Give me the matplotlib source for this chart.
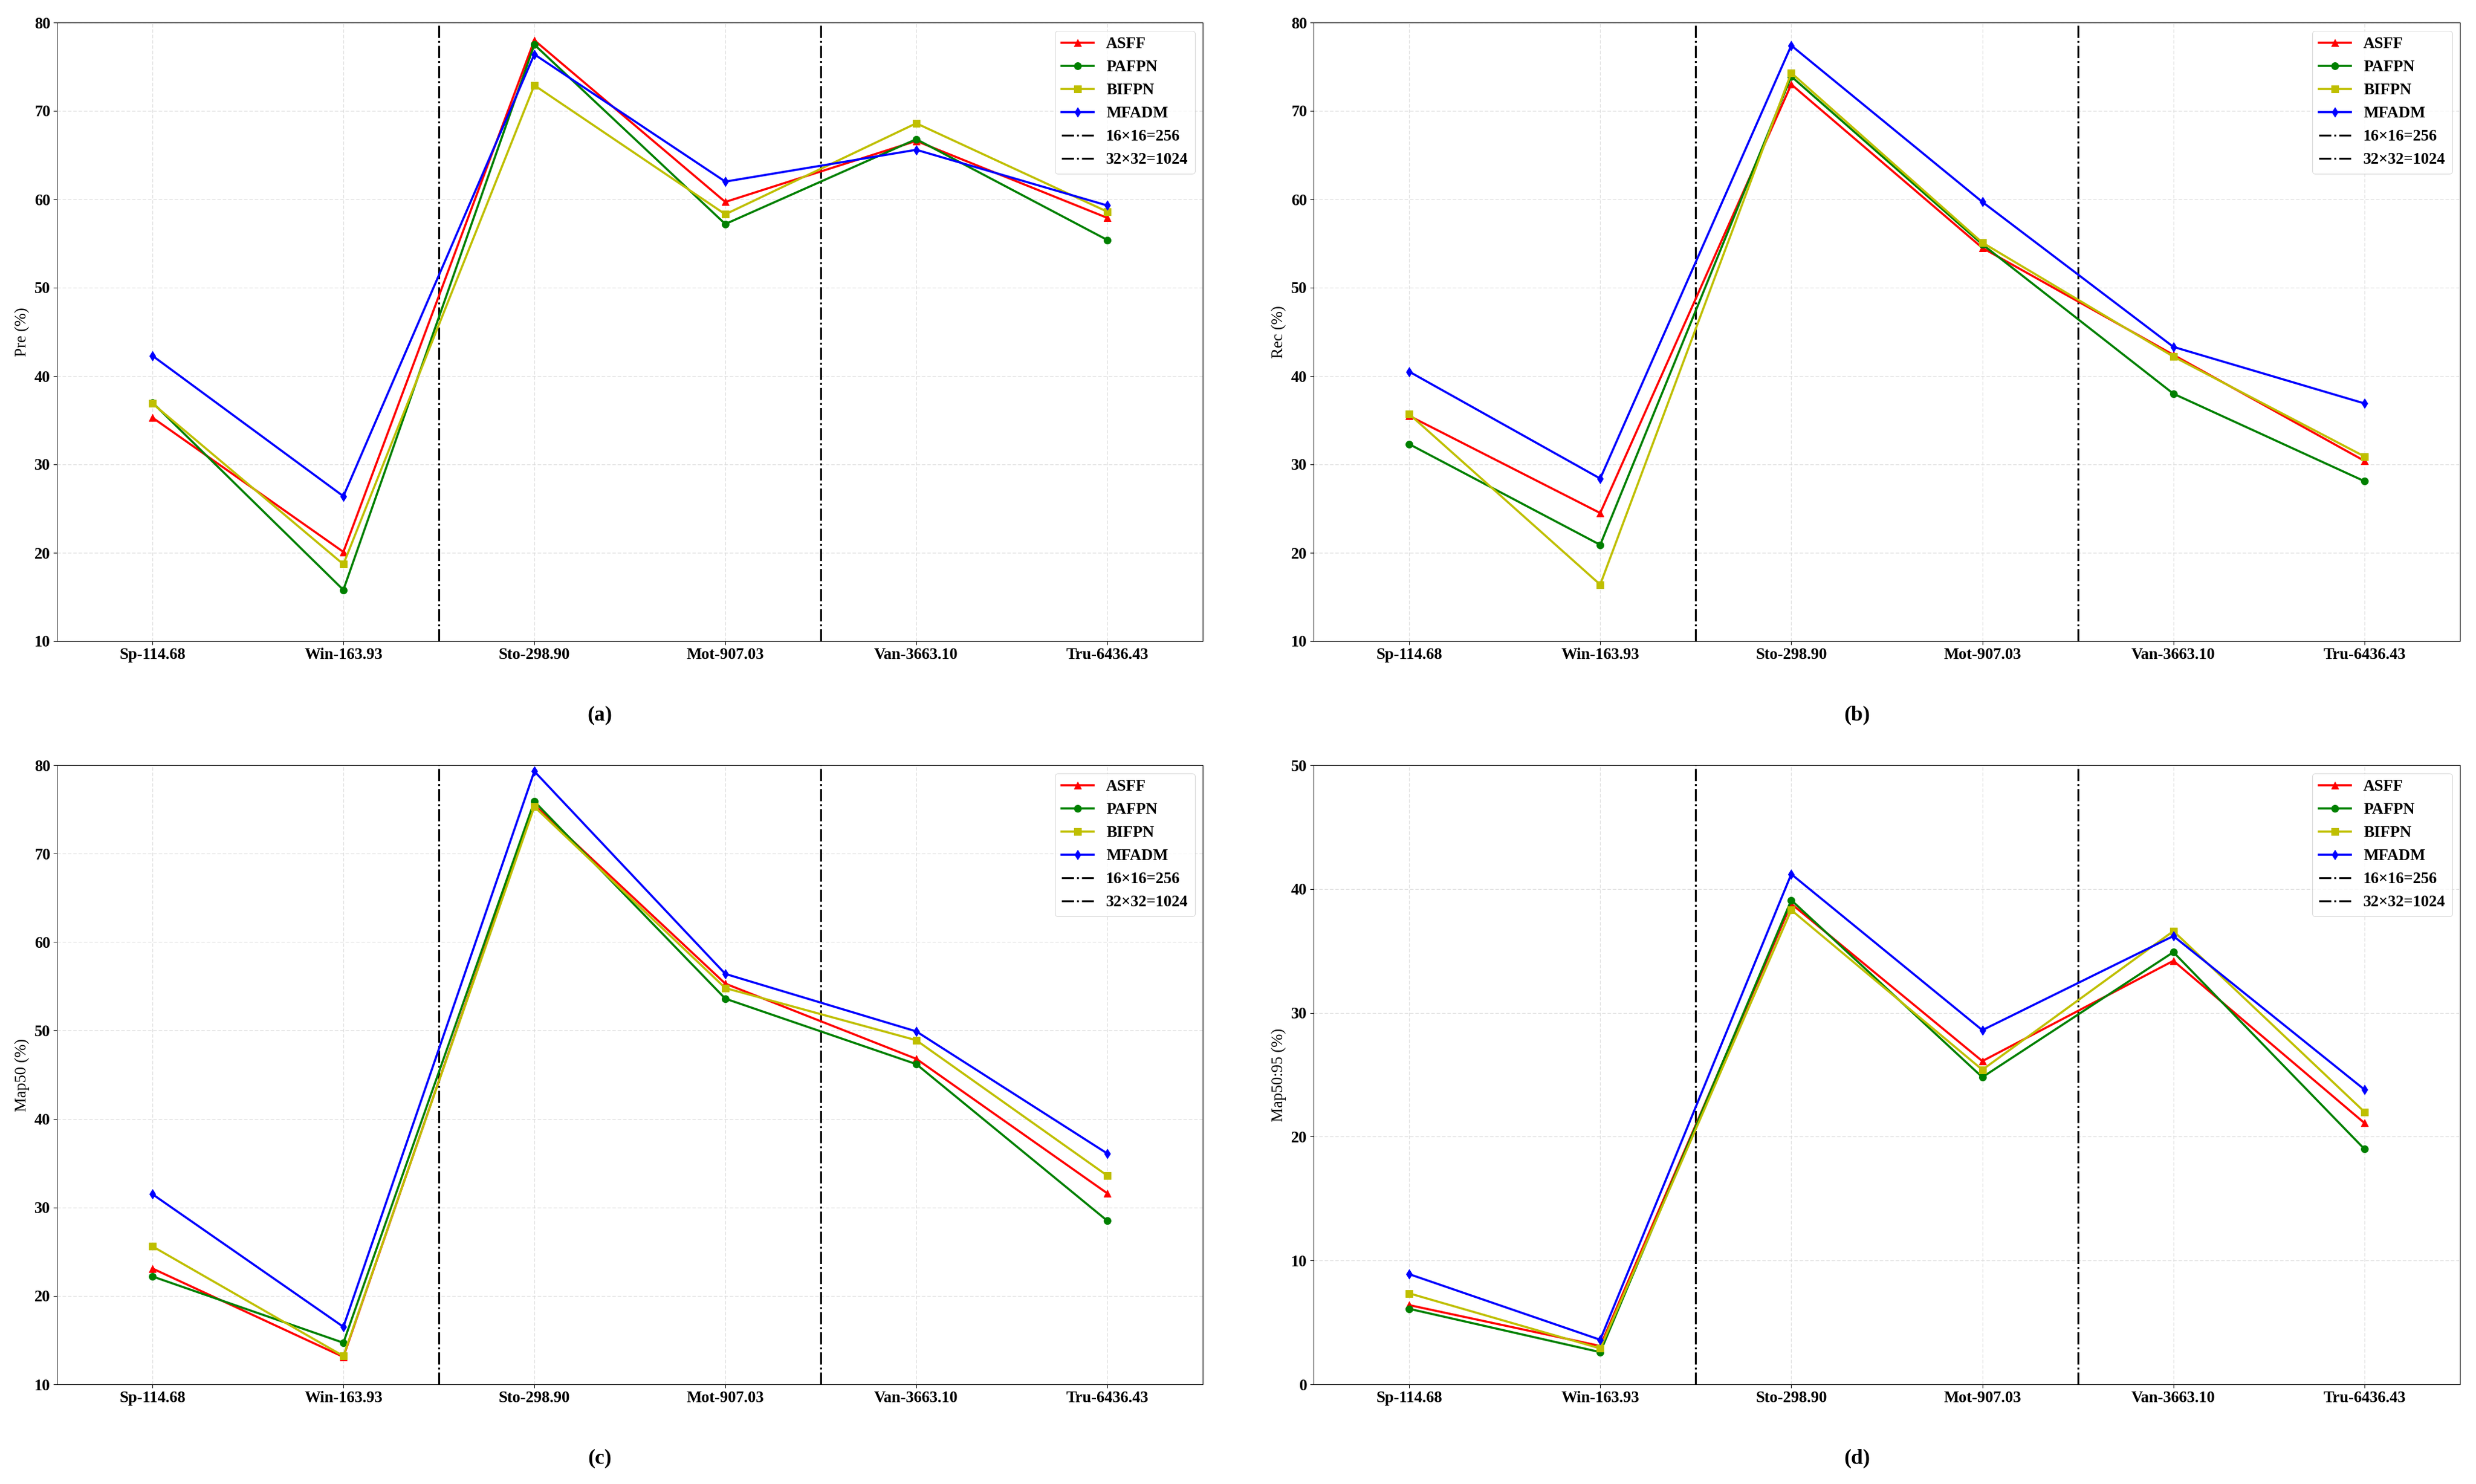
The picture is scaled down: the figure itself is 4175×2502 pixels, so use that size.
import matplotlib
matplotlib.use("Agg")
import matplotlib.pyplot as plt

plt.rcParams['font.family'] = ['Liberation Serif', 'DejaVu Serif']

categories = ['Sp-114.68', 'Win-163.93', 'Sto-298.90', 'Mot-907.03', 'Van-3663.10', 'Tru-6436.43']
methods = ['ASFF', 'PAFPN', 'BIFPN', 'MFADM']

pre_asff = [35.3, 20.1, 78.0, 59.7, 66.6, 57.9]
pre_pafpn = [37.0, 15.8, 77.5, 57.2, 66.8, 55.4]
pre_bifpn = [36.9, 18.7, 72.9, 58.3, 68.6, 58.6]
pre_mfadm = [42.3, 26.4, 76.4, 62.0, 65.6, 59.3]

rec_asff = [35.5, 24.5, 73.0, 54.5, 42.4, 30.4]
rec_pafpn = [32.3, 20.9, 73.9, 54.9, 38.0, 28.1]
rec_bifpn = [35.7, 16.4, 74.3, 55.1, 42.2, 30.9]
rec_mfadm = [40.5, 28.4, 77.4, 59.7, 43.3, 36.9]

map50_asff = [23.1, 13.1, 75.5, 55.3, 46.8, 31.6]
map50_pafpn = [22.2, 14.7, 75.9, 53.6, 46.2, 28.5]
map50_bifpn = [25.6, 13.2, 75.3, 54.8, 48.9, 33.6]
map50_mfadm = [31.5, 16.5, 79.3, 56.4, 49.9, 36.1]

map5095_asff = [6.4, 3.1, 38.8, 26.1, 34.2, 21.1]
map5095_pafpn = [6.1, 2.6, 39.1, 24.8, 34.9, 19.0]
map5095_bifpn = [7.35, 2.9, 38.3, 25.4, 36.6, 22.0]
map5095_mfadm = [8.9, 3.6, 41.2, 28.6, 36.2, 23.8]

boundary_labels = ['16\u00d716=256', '32\u00d732=1024']
boundary_pos = [1.5, 3.5]

panels = [
    ('Pre (%)', '(a)', (10, 80), [pre_asff, pre_pafpn, pre_bifpn, pre_mfadm]),
    ('Rec (%)', '(b)', (10, 80), [rec_asff, rec_pafpn, rec_bifpn, rec_mfadm]),
    ('Map50 (%)', '(c)', (10, 80), [map50_asff, map50_pafpn, map50_bifpn, map50_mfadm]),
    ('Map50:95 (%)', '(d)', (0, 50), [map5095_asff, map5095_pafpn, map5095_bifpn, map5095_mfadm]),
]

colors = ['r', 'g', 'y', 'b']
markers = ['^', 'o', 's', 'd']

W, H = 4175, 2502
DPI = 72
fig = plt.figure(figsize=(W / DPI, H / DPI), dpi=DPI)

# axes boxes in pixels: left, right, top, bottom
boxes = [
    (96, 2028, 38, 1081),
    (2215, 4148, 38, 1081),
    (96, 2028, 1290, 2334),
    (2215, 4148, 1290, 2334),
]

FS = 27
x = list(range(len(categories)))

for (ylabel, tag, ylim, series), (l, r, t, b) in zip(panels, boxes):
    ax = fig.add_axes([l / W, 1 - b / H, (r - l) / W, (b - t) / H])
    ax.grid(True, color='#d8d8d8', linestyle=(0, (5, 2.5)), linewidth=1.2, alpha=0.8, zorder=0)
    ax.set_axisbelow(True)
    for name, vals, c, m in zip(methods, series, colors, markers):
        ax.plot(x, vals, color=c, marker=m, linewidth=3.6, markersize=12,
                label=name, zorder=3)
    for pos, lab in zip(boundary_pos, boundary_labels):
        ax.axvline(pos, color='k', linestyle='-.', linewidth=3.2, label=lab, zorder=2)
    ax.set_xlim(-0.5, len(categories) - 0.5)
    ax.set_ylim(*ylim)
    ax.set_xticks(x)
    ax.set_xticklabels(categories)
    ax.set_yticks(range(ylim[0], ylim[1] + 1, 10))
    ax.tick_params(axis='both', labelsize=FS, length=6, width=1, pad=5)
    for lbl in ax.get_xticklabels() + ax.get_yticklabels():
        lbl.set_fontweight('bold')
    for sp in ax.spines.values():
        sp.set_linewidth(1.0)
    ax.set_ylabel(ylabel, fontsize=FS, labelpad=8)
    ax.text(0.474, -0.12, tag, transform=ax.transAxes, ha='center', va='center',
            fontsize=36, fontweight='bold')
    ax.legend(loc='upper right', prop={'weight': 'bold', 'size': FS},
              labelspacing=0.52, handlelength=2.0, borderpad=0.4)

fig.savefig('out.png', dpi=DPI)
